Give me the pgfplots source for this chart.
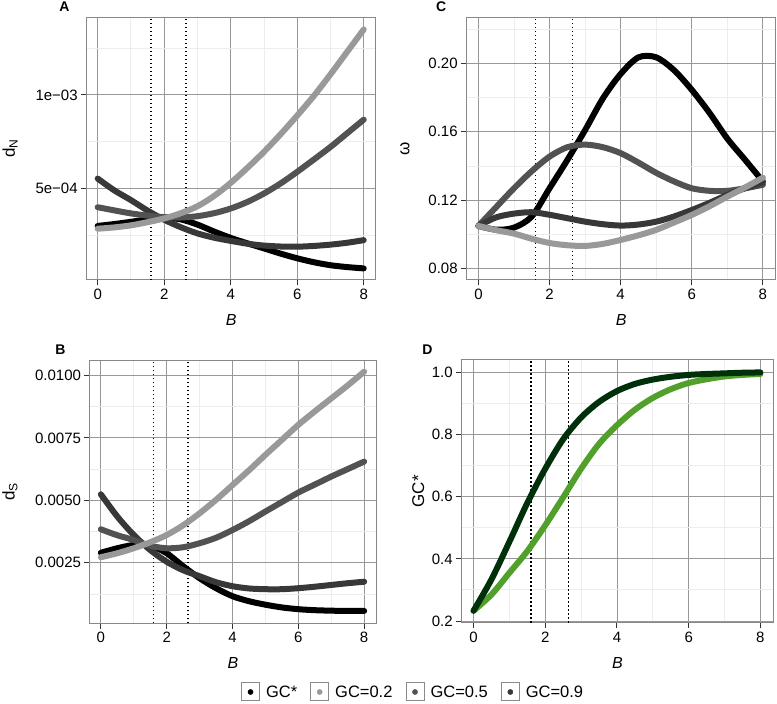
\documentclass[border=0pt]{standalone}
\usepackage{fontspec}
\setmainfont{Liberation Sans}
\usepackage{pgfplots}
\pgfplotsset{compat=1.18}
\definecolor{cgs}{HTML}{000000}
\definecolor{c02}{HTML}{999999}
\definecolor{c05}{HTML}{525252}
\definecolor{c09}{HTML}{383838}
\definecolor{dg}{HTML}{00300A}
\definecolor{lg}{HTML}{52A02C}
\definecolor{gridmaj}{HTML}{989898}
\definecolor{gridmin}{HTML}{EDEDED}
\definecolor{border}{HTML}{888888}
\definecolor{tickc}{HTML}{333333}
\definecolor{legbox}{HTML}{8A8A8A}
\pgfplotsset{
  every axis title shift=0pt,
  panel/.style={
    scale only axis, anchor=south west,
    xmin=-0.33, xmax=8.36,
    xtick={0,2,4,6,8}, xticklabels={0,2,4,6,8},
    minor xtick={1,3,5,7},
    scaled x ticks=false, scaled y ticks=false,
    grid=both,
    major grid style={draw=gridmaj, line width=0.9pt},
    minor grid style={draw=gridmin, line width=0.9pt},
    axis line style={draw=border, line width=1pt},
    tick align=outside, tick pos=left,
    major tick length=5.5pt, minor tick length=0pt,
    major tick style={draw=tickc, line width=1pt},
    ticklabel style={font=\fontsize{15}{15}\selectfont, text=black},
    xlabel={\itshape B},
    xlabel style={at={(axis description cs:0.5,-0.152)}, anchor=center, font=\fontsize{16}{16}\selectfont},
    ylabel style={anchor=center, font=\fontsize{17}{17}\selectfont},
    title style={anchor=center, font=\fontsize{14}{14}\selectfont\bfseries},
  },
  ser/.style={line width=6pt, line cap=round, line join=round, smooth, forget plot},
  vdot/.style={black, line width=1.4pt, dash pattern=on 1.4pt off 2.6pt, forget plot},
  legimg/.style={legend image code/.code={
      \draw[draw=legbox, line width=1pt, fill=white] (0pt,-9pt) rectangle (18pt,9pt);
      \fill (9pt,0pt) circle (2.6pt);}},
}
\begin{document}
\begin{tikzpicture}
\useasboundingbox (0,0) rectangle (777pt,704pt);

% ---------------- Panel A ----------------
\begin{axis}[panel, at={(86.7pt,424pt)}, width=289pt, height=262.7pt,
  ymin=1.1e-5, ymax=1.415e-3,
  ytick={5e-4,1e-3}, yticklabels={5e−04,1e−03},
  minor ytick={2.5e-4,7.5e-4,1.25e-3},
  ylabel={d\raisebox{-0.3ex}{\fontsize{12}{12}\selectfont N}},
  ylabel style={at={(axis description cs:-0.265,0.5)}},
  title={A}, title style={at={(axis description cs:-0.077,1.039)}},
]
\addplot[vdot] coordinates {(1.6,1.1e-5) (1.6,1.415e-3)};
\addplot[vdot] coordinates {(2.65,1.1e-5) (2.65,1.415e-3)};
\addplot[ser, cgs] coordinates {(0,3.0e-4) (0.5,3.1e-4) (1,3.22e-4) (1.5,3.35e-4) (2,3.43e-4) (2.5,3.35e-4) (3,3.07e-4) (3.5,2.7e-4) (4,2.36e-4) (4.5,2.07e-4) (5,1.8e-4) (5.5,1.52e-4) (6,1.27e-4) (6.5,1.06e-4) (7,0.9e-4) (7.5,0.8e-4) (8,0.73e-4)};
\addplot[ser, c09] coordinates {(0,5.53e-4) (0.5,4.9e-4) (1,4.38e-4) (1.5,3.82e-4) (2,3.33e-4) (2.5,2.93e-4) (3,2.6e-4) (3.5,2.37e-4) (4,2.2e-4) (4.5,2.05e-4) (5,1.95e-4) (5.5,1.9e-4) (6,1.89e-4) (6.5,1.93e-4) (7,2.0e-4) (7.5,2.1e-4) (8,2.24e-4)};
\addplot[ser, c05] coordinates {(0,4.0e-4) (0.5,3.83e-4) (1,3.67e-4) (1.5,3.55e-4) (2,3.47e-4) (2.5,3.45e-4) (3,3.52e-4) (3.5,3.68e-4) (4,3.93e-4) (4.5,4.28e-4) (5,4.73e-4) (5.5,5.27e-4) (6,5.89e-4) (6.5,6.55e-4) (7,7.22e-4) (7.5,7.95e-4) (8,8.68e-4)};
\addplot[ser, c02] coordinates {(0,2.85e-4) (0.5,2.92e-4) (1,3.03e-4) (1.5,3.2e-4) (2,3.4e-4) (2.5,3.68e-4) (3,4.05e-4) (3.5,4.6e-4) (4,5.3e-4) (4.5,6.1e-4) (5,6.96e-4) (5.5,7.9e-4) (6,8.9e-4) (6.5,9.95e-4) (7,11.1e-4) (7.5,12.3e-4) (8,13.5e-4)};
\end{axis}

% ---------------- Panel C ----------------
\begin{axis}[panel, at={(466.7pt,424pt)}, width=309pt, height=262.7pt,
  ymin=0.0734, ymax=0.2269,
  ytick={0.08,0.12,0.16,0.20}, yticklabels={0.08,0.12,0.16,0.20},
  minor ytick={0.10,0.14,0.18,0.22},
  ylabel={ω},
  ylabel style={at={(axis description cs:-0.2,0.5)}},
  title={C}, title style={at={(axis description cs:-0.083,1.039)}},
]
\addplot[vdot] coordinates {(1.6,0.0734) (1.6,0.2269)};
\addplot[vdot] coordinates {(2.65,0.0734) (2.65,0.2269)};
\addplot[ser, cgs] coordinates {(0,0.105) (0.5,0.1028) (1,0.104) (1.5,0.1105) (2,0.127) (2.5,0.1435) (3,0.161) (3.5,0.1795) (4,0.1938) (4.5,0.2035) (5,0.2035) (5.5,0.196) (6,0.1845) (6.5,0.171) (7,0.156) (7.5,0.1436) (8,0.131)};
\addplot[ser, c05] coordinates {(0,0.105) (0.5,0.116) (1,0.127) (1.5,0.137) (2,0.1455) (2.5,0.151) (3,0.1525) (3.5,0.151) (4,0.1475) (4.5,0.142) (5,0.136) (5.5,0.131) (6,0.127) (6.5,0.1255) (7,0.1255) (7.5,0.127) (8,0.129)};
\addplot[ser, c09] coordinates {(0,0.105) (0.5,0.110) (1,0.1122) (1.5,0.113) (2,0.1115) (2.5,0.1095) (3,0.1075) (3.5,0.106) (4,0.1052) (4.5,0.1058) (5,0.1075) (5.5,0.1105) (6,0.1143) (6.5,0.1185) (7,0.1231) (7.5,0.127) (8,0.1305)};
\addplot[ser, c02] coordinates {(0,0.105) (0.5,0.1025) (1,0.1005) (1.5,0.0975) (2,0.095) (2.5,0.0937) (3,0.0933) (3.5,0.0945) (4,0.0968) (4.5,0.0995) (5,0.1027) (5.5,0.107) (6,0.1114) (6.5,0.1165) (7,0.1221) (7.5,0.1275) (8,0.1332)};
\end{axis}

% ---------------- Panel B ----------------
\begin{axis}[panel, at={(90pt,80.7pt)}, width=286pt, height=262.6pt,
  ymin=0.000075, ymax=0.01059,
  ytick={0.0025,0.005,0.0075,0.01}, yticklabels={0.0025,0.0050,0.0075,0.0100},
  minor ytick={0.00125,0.00375,0.00625,0.00875},
  ylabel={d\raisebox{-0.3ex}{\fontsize{12}{12}\selectfont S}},
  ylabel style={at={(axis description cs:-0.28,0.5)}},
  title={B}, title style={at={(axis description cs:-0.103,1.041)}},
  legend style={at={(0.528,-0.2616)}, anchor=west, draw=none, fill=none,
    inner sep=0pt, outer sep=0pt,
    nodes={font=\fontsize{16.5}{16.5}\selectfont, inner xsep=3pt, inner ysep=0pt},
    /tikz/every odd column/.append style={column sep=3pt},
    /tikz/every even column/.append style={column sep=10pt}},
  legend columns=4, legend cell align=left,
]
\addplot[vdot] coordinates {(1.6,0.000075) (1.6,0.01059)};
\addplot[vdot] coordinates {(2.65,0.000075) (2.65,0.01059)};
\addplot[ser, cgs] coordinates {(0,0.0029) (0.5,0.00308) (1,0.00321) (1.5,0.00318) (2,0.00288) (2.5,0.00236) (3,0.00188) (3.5,0.00148) (4,0.00116) (4.5,0.00096) (5,0.00082) (5.5,0.00071) (6,0.00064) (6.5,0.0006) (7,0.00058) (7.5,0.00057) (8,0.00057)};
\addplot[ser, c09] coordinates {(0,0.00524) (0.5,0.00435) (1,0.00361) (1.5,0.00301) (2,0.00254) (2.5,0.0022) (3,0.00196) (3.5,0.00172) (4,0.00156) (4.5,0.00147) (5,0.00144) (5.5,0.00144) (6,0.00148) (6.5,0.00154) (7,0.00161) (7.5,0.00168) (8,0.00174)};
\addplot[ser, c05] coordinates {(0,0.00384) (0.5,0.0036) (1,0.00341) (1.5,0.00318) (2,0.00308) (2.5,0.00312) (3,0.00328) (3.5,0.0035) (4,0.00381) (4.5,0.00416) (5,0.00455) (5.5,0.00493) (6,0.00531) (6.5,0.00563) (7,0.00595) (7.5,0.00625) (8,0.00655)};
\addplot[ser, c02] coordinates {(0,0.00272) (0.5,0.00288) (1,0.00308) (1.5,0.00332) (2,0.00361) (2.5,0.004) (3,0.00448) (3.5,0.00502) (4,0.00561) (4.5,0.0062) (5,0.00682) (5.5,0.00742) (6,0.00802) (6.5,0.00856) (7,0.00908) (7.5,0.0096) (8,0.01015)};
\addlegendimage{legimg, color=cgs}\addlegendentry{GC*}
\addlegendimage{legimg, color=c02}\addlegendentry{GC=0.2}
\addlegendimage{legimg, color=c05}\addlegendentry{GC=0.5}
\addlegendimage{legimg, color=c09}\addlegendentry{GC=0.9}
\end{axis}

% ---------------- Panel D ----------------
\begin{axis}[panel, at={(461.7pt,81.3pt)}, width=311.6pt, height=262.7pt,
  ymin=0.1946, ymax=1.04,
  ytick={0.2,0.4,0.6,0.8,1.0}, yticklabels={0.2,0.4,0.6,0.8,1.0},
  minor ytick={0.3,0.5,0.7,0.9},
  ylabel={GC*},
  ylabel style={at={(axis description cs:-0.139,0.5)}},
  title={D}, title style={at={(axis description cs:-0.11,1.038)}},
]
\addplot[vdot] coordinates {(1.6,0.1946) (1.6,1.04)};
\addplot[vdot] coordinates {(2.65,0.1946) (2.65,1.04)};
\addplot[ser, lg] coordinates {(0,0.233) (0.5,0.285) (1,0.355) (1.5,0.425) (2,0.508) (2.5,0.598) (3,0.69) (3.5,0.77) (4,0.83) (4.5,0.88) (5,0.918) (5.5,0.946) (6,0.966) (6.5,0.978) (7,0.987) (7.5,0.992) (8,0.995)};
\addplot[ser, dg] coordinates {(0,0.233) (0.5,0.334) (1,0.455) (1.5,0.58) (2,0.69) (2.5,0.785) (3,0.855) (3.5,0.905) (4,0.94) (4.5,0.963) (5,0.977) (5.5,0.986) (6,0.992) (6.5,0.995) (7,0.997) (7.5,0.999) (8,1.0)};
\end{axis}
\end{tikzpicture}
\end{document}
